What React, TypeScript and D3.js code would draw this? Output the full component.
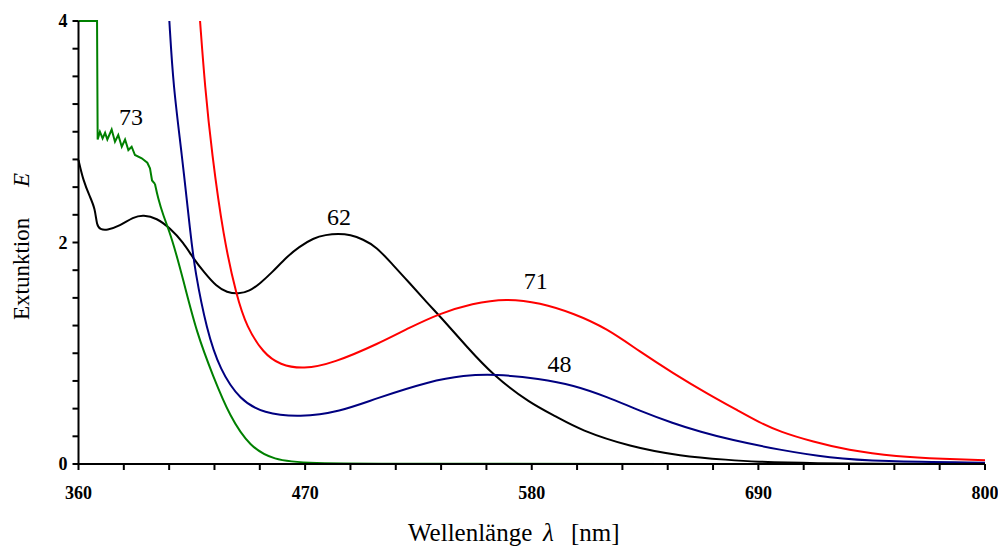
import React from "react";
import * as d3 from "d3";

type P = [number, number];

const xTickLabels = [360, 470, 580, 690, 800];
const yTickLabels = [0, 2, 4];

const series62: P[] = [
  [360, 2.745], [362.3, 2.56], [365.6, 2.41], [368, 2.31], [368.9, 2.15], [370.5, 2.12],
  [373.7, 2.11], [380.1, 2.15], [386.6, 2.23], [391.5, 2.25], [398, 2.22], [404.4, 2.13],
  [410.9, 2.0], [415.6, 1.86], [421, 1.73], [427.1, 1.6], [432, 1.55], [437.6, 1.535],
  [443, 1.56], [448.1, 1.63], [454, 1.73], [461.1, 1.87], [467, 1.96], [474, 2.04],
  [480, 2.07], [486.1, 2.08], [492, 2.07], [498, 2.03], [504.7, 1.96], [512, 1.81],
  [520.9, 1.63], [529, 1.46], [537.1, 1.3], [548.4, 1.06], [561.3, 0.8], [579.2, 0.548],
  [592.1, 0.427], [603.4, 0.307], [627.7, 0.156], [652, 0.072], [676.2, 0.036],
  [687.4, 0.021], [716.6, 0.006], [760, 0.002], [800, 0.0],
];

const series71: P[] = [
  [419, 4.0], [421.4, 3.4], [424.7, 2.81], [430.3, 2.05], [436.8, 1.51], [441.6, 1.24],
  [449.7, 1.0], [457.8, 0.894], [469.1, 0.855], [483.7, 0.91], [506, 1.09], [520.5, 1.23],
  [535.5, 1.36], [551, 1.45], [567.8, 1.496], [584, 1.456], [600.2, 1.361], [616.4, 1.225],
  [632.5, 1.014], [648.7, 0.819], [664.9, 0.638], [681.1, 0.472], [690, 0.38], [700.5, 0.29],
  [716.7, 0.2], [732.9, 0.126], [757.2, 0.066], [780, 0.045], [800, 0.034],
];

const series48: P[] = [
  [404.1, 4.0], [406, 3.41], [410.1, 2.81], [414.5, 2.05], [416.5, 1.75], [422.2, 1.21],
  [428.7, 0.849], [438.4, 0.578], [449.7, 0.458], [467.5, 0.422], [486.9, 0.472],
  [504, 0.59], [531, 0.75], [547, 0.8], [562, 0.813], [584, 0.77], [600.2, 0.713],
  [616.4, 0.608], [632.5, 0.48], [648.7, 0.367], [662, 0.29], [676.2, 0.22], [700.5, 0.126],
  [724.7, 0.055], [749, 0.023], [800, 0.012],
];

const series73: P[] = [
  [360, 4.0], [369, 4.0], [369.3, 2.93], [370.4, 3.0], [371.7, 2.94], [372.9, 2.99],
  [374, 2.93], [376.1, 3.02], [377.7, 2.91], [379.3, 2.97], [381, 2.865], [382.6, 2.93],
  [384.2, 2.835], [385.8, 2.865], [387.4, 2.79], [390.7, 2.76], [393.4, 2.72], [394.7, 2.67],
  [395.7, 2.56], [397.1, 2.53], [398.6, 2.4], [401, 2.25], [405.2, 2.05], [410.9, 1.66],
  [417.4, 1.18], [425.4, 0.79], [433.5, 0.427], [443.2, 0.156], [454.6, 0.036],
  [470.8, 0.005], [516, 0.001], [800, 0.0],
];

const labelText = ["73", "62", "71", "48"];
const labelNm = [385.5, 486.5, 582, 593.5];
const labelE = [3.06, 2.16, 1.58, 0.83];

const W = 998;
const H = 546;
const x0 = 78.5, x1 = 985;
const yTop = 21, yBot = 464;

export default function App() {
  const x = d3.scaleLinear().domain([360, 800]).range([x0, x1]);
  const y = d3.scaleLinear().domain([0, 4]).range([yBot, yTop]);
  const line = d3.line<P>().x((d) => x(d[0])).y((d) => y(d[1]));
  const smooth = d3.line<P>().x((d) => x(d[0])).y((d) => y(d[1])).curve(d3.curveBasis);

  const xMinor = d3.range(360, 801, 22);
  const yMinor = d3.range(0, 4.001, 0.25);
  const serif = '"Liberation Serif", "Times New Roman", serif';

  const greenSplit = 19;

  return (
    <svg width={W} height={H} style={{ position: "absolute", left: 0, top: 0, background: "#fff", fontFamily: serif }}>
      <path d={smooth(series62) || ""} fill="none" stroke="#000" strokeWidth={2} />
      <path d={smooth(series71) || ""} fill="none" stroke="#ff0000" strokeWidth={2} />
      <path d={smooth(series48) || ""} fill="none" stroke="#000080" strokeWidth={2} />
      <path d={line(series73.slice(0, greenSplit + 1)) || ""} fill="none" stroke="#008000" strokeWidth={2} />
      <path d={smooth(series73.slice(greenSplit)) || ""} fill="none" stroke="#008000" strokeWidth={2} />

      <line x1={x0} x2={x0} y1={yTop} y2={yBot} stroke="#000" strokeWidth={2} />
      <line x1={x0} x2={x1} y1={yBot} y2={yBot} stroke="#000" strokeWidth={2} />
      {yMinor.map((v) => (
        <line key={"yt" + v} x1={x0 - 6} x2={x0} y1={y(v)} y2={y(v)} stroke="#000" strokeWidth={2} />
      ))}
      {xMinor.map((v) => (
        <line key={"xt" + v} x1={x(v)} x2={x(v)} y1={yBot} y2={yBot + 6} stroke="#000" strokeWidth={2} />
      ))}
      {yTickLabels.map((v) => (
        <text key={"yl" + v} x={x0 - 11} y={y(v)} dy="0.35em" textAnchor="end"
          style={{ fontFamily: serif, fontWeight: "bold", fontSize: 18 }}>{v}</text>
      ))}
      {xTickLabels.map((v) => (
        <text key={"xl" + v} x={x(v)} y={499} textAnchor="middle"
          style={{ fontFamily: serif, fontWeight: "bold", fontSize: 18 }}>{v}</text>
      ))}

      {labelText.map((t, i) => (
        <text key={t} x={x(labelNm[i])} y={y(labelE[i])} textAnchor="middle"
          style={{ fontFamily: serif, fontSize: 24 }}>{t}</text>
      ))}

      <text x={408} y={541} style={{ fontFamily: serif, fontSize: 25 }}>
        Wellenlänge<tspan x={543} fontStyle="italic">λ</tspan><tspan x={571}>[nm]</tspan>
      </text>
      <text transform="translate(28.5,320) rotate(-90)" x={0} y={0} style={{ fontFamily: serif, fontSize: 23 }}>
        Extunktion<tspan x={133} fontStyle="italic">E</tspan>
      </text>
    </svg>
  );
}
